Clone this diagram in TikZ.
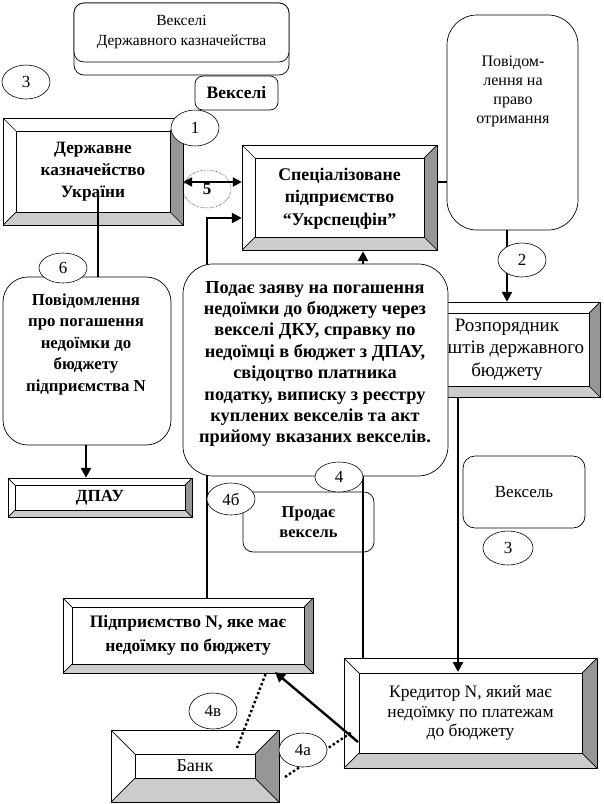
\documentclass[tikz,border=0pt]{standalone}
\usepackage{fontspec}
\setmainfont{Liberation Serif}
\usetikzlibrary{arrows.meta,shapes.geometric}
\definecolor{bevdark}{HTML}{969696}
\definecolor{bevlight}{HTML}{CCCCCC}
\newcommand{\fs}[2]{\fontsize{#1}{#2}\selectfont}
% #1 name, #2 x1, #3 y1, #4 x2, #5 y2, #6 inset, #7 node options, #8 text
\newcommand{\bevbox}[8]{%
  \fill[white] (#2,#3) rectangle (#4,#5);
  \fill[bevdark] (#4,#3) -- (#4,#5) -- (#4-#6,#5-#6) -- (#4-#6,#3+#6) -- cycle;
  \fill[bevlight] (#2,#5) -- (#4,#5) -- (#4-#6,#5-#6) -- (#2+#6,#5-#6) -- cycle;
  \draw[boxline] (#2,#3) rectangle (#4,#5);
  \draw[boxline] (#2+#6,#3+#6) rectangle (#4-#6,#5-#6);
  \draw[boxline] (#2,#3) -- (#2+#6,#3+#6) (#4,#3) -- (#4-#6,#3+#6)
        (#4,#5) -- (#4-#6,#5-#6) (#2,#5) -- (#2+#6,#5-#6);
  \node[inner sep=0pt, align=center, minimum width={#4-#2}, minimum height={#5-#3}, #7]
     (#1) at ({(#2+#4)/2},{(#3+#5)/2}) {#8};
}
\tikzset{
  boxline/.style={line width=0.7pt},
  conn/.style={line width=2.4pt},
  arr/.style={conn, -{Triangle[length=10pt,width=10pt]}},
  num/.style={ellipse, draw, fill=white, line width=0.6pt, inner sep=0pt,
              minimum width=48pt, minimum height=34pt, font=\fs{17}{17}},
  rbox/.style={draw, fill=white, rounded corners=#1, line width=0.7pt,
               inner sep=0pt, align=center},
  rbox/.default=10pt,
  txt/.style={inner sep=0pt, align=center},
  dotconn/.style={line width=2.4pt, dash pattern=on 2.4pt off 2.4pt},
}
\begin{document}
\begin{tikzpicture}[x=1pt,y=-1pt]
\useasboundingbox (0,0) rectangle (604,804);

% top stacked box
\draw[rbox=10pt] (74,3) rectangle (289,75);
\node[rbox=10pt, minimum width=215pt, minimum height=59pt, font=\fs{15.5}{20}]
  (topbox) at (181.5,32.5) {Векселі\\Державного казначейства};

% Векселі box
\node[rbox=8pt, minimum width=83pt, minimum height=34pt, font=\bfseries\fs{17.5}{20}]
  (veks) at (236.5,93) {Векселі};

% bevel boxes
\bevbox{dku}{3}{118}{183}{225}{13}{font=\bfseries\fs{17.3}{22}}{Державне\\казначейство\\України}
\bevbox{ukr}{242}{145}{437}{250}{13}{font=\bfseries\fs{17.8}{22.5}, yshift=-1pt}{Спеціалізоване\\підприємство\\“Укрспецфін”}
\bevbox{rozp}{414}{302}{600}{397}{11}{font=\fs{19}{22.5}}{Розпорядник\\коштів державного\\бюджету}
\bevbox{dpau}{8}{478}{192}{517}{7}{font=\bfseries\fs{17}{22}}{ДПАУ}
\bevbox{pidpr}{63}{598}{313}{673}{9}{font=\bfseries\fs{17.5}{24}}{Підприємство N, яке має\\недоїмку по бюджету}
\bevbox{kred}{344}{658}{597}{768}{15}{font=\fs{17.5}{19.5}}{Кредитор N, який має\\недоїмку по платежам\\до бюджету}
\bevbox{bank}{111}{730}{279}{802}{24}{font=\fs{18}{20}}{Банк}

% right tall box
\node[rbox=30pt, minimum width=131pt, minimum height=215pt] (povid) at (512.5,122.5) {};
\node[txt, font=\fs{16}{19}] (povidtext) at (513,91) {Повідом-\\лення на\\право\\отримання};

% left notice box
\node[rbox=25pt, minimum width=168pt, minimum height=168pt] (notice) at (87,361) {};
\node[txt, font=\bfseries\fs{16.8}{21.5}] (noticetext) at (86,344)
  {Повідомлення\\про погашення\\недоїмки до\\бюджету\\підприємства N};

% Вексель box
\node[rbox=12pt, minimum width=122pt, minimum height=72pt, font=\fs{17}{20}]
  (veksel) at (524,492) {Вексель};

% Продає вексель box
\node[rbox=10pt, minimum width=131pt, minimum height=60pt, font=\bfseries\fs{16.5}{20}]
  (prodaie) at (308.5,522) {Продає\\вексель};

% connectors
\coordinate (p1) at (98,192);
\draw[conn] (p1) -- (p1 |- notice.north);
\draw[arr] (notice.south -| 86,0) -- (dpau.north -| 86,0);
\draw[conn] (povid.west |- 0,182) -- (ukr.east |- 0,182);
\draw[conn, {Triangle[length=9pt,width=9pt]}-{Triangle[length=9pt,width=9pt]}]
  (dku.east |- 0,182) -- (ukr.west |- 0,182);
\draw[arr] (pidpr.north -| 207,0) -- (207,218) -- (ukr.west |- 0,218);
\draw[arr] (kred.north -| 363,0) -- (ukr.south -| 363,0);
\draw[arr] (povid.south -| 507,0) -- (rozp.north -| 507,0);
\coordinate (kin) at (458,672);
\draw[arr] (rozp.south -| 458,0) -- (kin);
\coordinate (ka) at (358,742);
\coordinate (pb) at (275,672);
\draw[arr] (ka) -- (pb);
\coordinate (b1) at (237,748);
\coordinate (b2) at (266,673);
\draw[dotconn] (b1) -- (b2);
\coordinate (b3) at (285,777);
\coordinate (b4) at (352,732);
\draw[dotconn] (b3) -- (b4);

% big callout
\node[rbox=30pt, minimum width=265pt, minimum height=212pt] (callout) at (315.5,370) {};
\node[txt, font=\bfseries\fs{18.3}{21.4}] (callouttext) at (315,364)
  {Подає заяву на погашення\\недоїмки до бюджету через\\векселі ДКУ, справку по\\недоїмці в бюджет з ДПАУ,\\свідоцтво платника\\податку, виписку з реєстру\\куплених векселів та акт\\прийому вказаних векселів.};

% number ellipses
\node[num] (n3a) at (26,82) {3};
\node[num, minimum height=36pt] (n1) at (195,128) {1};
\node[ellipse, draw, densely dotted, line width=0.5pt, minimum width=48pt, minimum height=38pt,
      inner sep=0pt, font=\bfseries\fs{17}{17}] (n5) at (207,189) {\raisebox{-4pt}{5}};
\node[num] (n2) at (522,260) {2};
\node[num, minimum height=30pt] (n6) at (63,268) {6};
\node[num, minimum height=30pt] (n4) at (339,477) {4};
\node[num, minimum height=32pt] (n4b) at (231,499) {4б};
\node[num, minimum width=50pt] (n3b) at (508,548) {3};
\node[num, minimum height=36pt] (n4v) at (213,711) {4в};
\node[num] (n4a) at (303,750) {4а};
\end{tikzpicture}
\end{document}
